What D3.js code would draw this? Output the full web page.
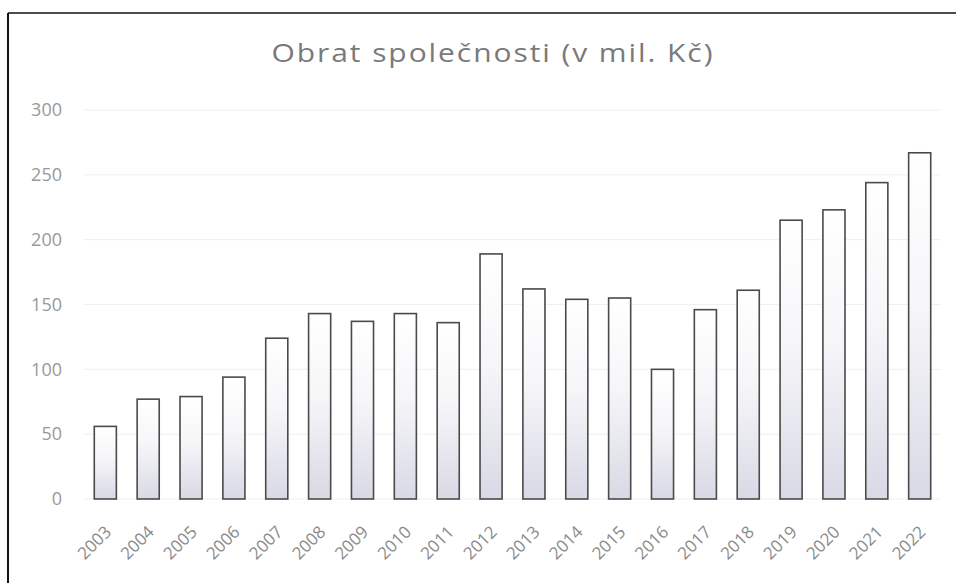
<!DOCTYPE html>
<html><head><meta charset="utf-8">
<script src="https://cdn.jsdelivr.net/npm/d3@7"></script>
<style>html,body{margin:0;padding:0;background:#fff;}svg{display:block;}</style>
</head><body>
<script>
const years = ["2003","2004","2005","2006","2007","2008","2009","2010","2011","2012","2013","2014","2015","2016","2017","2018","2019","2020","2021","2022"];
const turnover = [56,77,79,94,124,143,137,143,136,189,162,154,155,100,146,161,215,223,244,267];
const yTicks = [0,50,100,150,200,250,300];
const title = "Obrat společnosti (v mil. Kč)";

const W = 956, H = 583;
const svg = d3.select("body").append("svg").attr("width", W).attr("height", H);

const defs = svg.append("defs");
const grad = defs.append("linearGradient").attr("id","barGrad").attr("x1",0).attr("y1",0).attr("x2",0).attr("y2",1);
grad.append("stop").attr("offset","0%").attr("stop-color","#ffffff");
grad.append("stop").attr("offset","45%").attr("stop-color","#f6f6f9");
grad.append("stop").attr("offset","100%").attr("stop-color","#d9d9e6");

// frame
svg.append("line").attr("x1",8).attr("x2",W).attr("y1",13).attr("y2",13).attr("stroke","#111").attr("stroke-width",1.5);
svg.append("line").attr("x1",8).attr("x2",8).attr("y1",13).attr("y2",H).attr("stroke","#111").attr("stroke-width",2);

const x = d3.scaleBand().domain(years).range([84, 941]).paddingInner(0.485).paddingOuter(0.24);
const y = d3.scaleLinear().domain([0,300]).range([499, 110]);

// gridlines
svg.append("g").selectAll("line").data(yTicks).join("line")
  .attr("x1",84).attr("x2",941).attr("y1",d=>y(d)).attr("y2",d=>y(d))
  .attr("stroke","#efefef").attr("stroke-width",1);

// title
const sx = 1.2;
svg.append("text").attr("transform",`translate(492,62) scale(${sx},1)`).attr("text-anchor","middle")
  .attr("font-family","'Open Sans', sans-serif").attr("font-size",25).attr("fill","#7a7a7a")
  .attr("textLength",441/sx).attr("lengthAdjust","spacing")
  .text(title);

// y axis
const yAxis = d3.axisLeft(y).tickValues(yTicks).tickSize(0).tickPadding(0);
const gy = svg.append("g").attr("transform","translate(62,0)").call(yAxis);
gy.select(".domain").remove();
gy.selectAll("text").attr("font-family","'Open Sans', sans-serif").attr("font-size",18).attr("fill","#999999");

// bars
svg.append("g").selectAll("rect").data(years).join("rect")
  .attr("x",(d)=>x(d)).attr("width",x.bandwidth())
  .attr("y",(d,i)=>y(turnover[i])).attr("height",(d,i)=>y(0)-y(turnover[i]))
  .attr("fill","url(#barGrad)").attr("stroke","#4a4a4a").attr("stroke-width",1.6);

// x axis
const xAxis = d3.axisBottom(x).tickSize(0).tickPadding(0);
const gx = svg.append("g").attr("transform","translate(0,499)").call(xAxis);
gx.select(".domain").remove();
gx.selectAll("text")
  .attr("font-family","'Open Sans', sans-serif").attr("font-size",17).attr("fill","#8a8a8a")
  .attr("text-anchor","end").attr("dy",0)
  .attr("transform","translate(7,34) rotate(-45)");
</script>
</body></html>
